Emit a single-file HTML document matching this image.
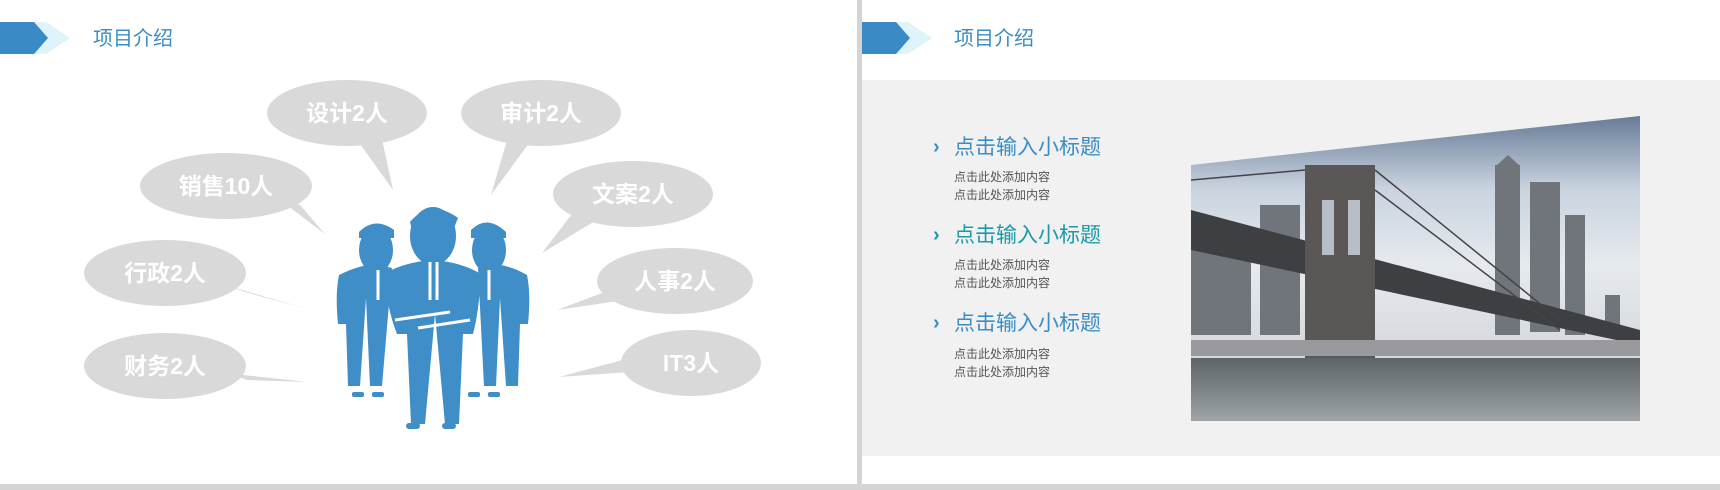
<!DOCTYPE html>
<html><head><meta charset="utf-8"><style>
html,body{margin:0;padding:0;background:#fff;}
svg{display:block;}
text{font-family:"Liberation Sans","Noto Sans CJK SC",sans-serif;}
</style></head><body>
<svg width="1720" height="490" viewBox="0 0 1720 490" xmlns="http://www.w3.org/2000/svg">
<defs>
<linearGradient id="sky" x1="0" y1="0" x2="0" y2="1">
<stop offset="0" stop-color="#5f7391"/><stop offset="0.25" stop-color="#c9d3df"/><stop offset="0.5" stop-color="#e6eaee"/><stop offset="1" stop-color="#c8ccd0"/>
</linearGradient>
<linearGradient id="water" x1="0" y1="0" x2="0" y2="1">
<stop offset="0" stop-color="#5d6468"/><stop offset="1" stop-color="#9da3a6"/>
</linearGradient>
<clipPath id="photo"><polygon points="1191,165 1640,116 1640,421 1191,421"/></clipPath>
</defs>
<rect width="1720" height="490" fill="#fff"/>
<rect x="857" y="0" width="5" height="490" fill="#d4d4d4"/>
<rect x="0" y="484" width="1720" height="6" fill="#d4d4d4"/>

<polygon points="0,22 46,22 70,38 46,54 0,54" fill="#def3fa"/>
<polygon points="0,22 34,22 48,38 34,54 0,54" fill="#3a8ac6"/>
<text x="93" y="45" font-size="20" fill="#3a8dc5">项目介绍</text>

<g fill="#d9d9d9">
<ellipse cx="347" cy="113" rx="80" ry="33"/><polygon points="350,130 380,130 393,190"/>
<ellipse cx="541" cy="113" rx="80" ry="33"/><polygon points="510,130 535,135 491,195"/>
<ellipse cx="226" cy="186" rx="86" ry="33"/><polygon points="280,200 300,205 325,234"/>
<ellipse cx="633" cy="194" rx="80" ry="33"/><polygon points="575,210 605,215 542,253"/>
<ellipse cx="165" cy="273" rx="81" ry="33"/><polygon points="225,285 245,292 307,309"/>
<ellipse cx="675" cy="281" rx="78" ry="33"/><polygon points="610,290 625,300 557,310"/>
<ellipse cx="165" cy="366" rx="81" ry="33"/><polygon points="225,373 248,380 307,382"/>
<ellipse cx="691" cy="363" rx="70" ry="33"/><polygon points="630,358 630,372 559,377"/>
</g>
<g fill="#fff" font-size="23" font-weight="bold" text-anchor="middle">
<text x="347" y="121">设计2人</text>
<text x="541" y="121">审计2人</text>
<text x="226" y="194">销售10人</text>
<text x="633" y="202">文案2人</text>
<text x="165" y="281">行政2人</text>
<text x="675" y="289">人事2人</text>
<text x="165" y="374">财务2人</text>
<text x="691" y="371">IT3人</text>
</g>

<g fill="#3f8ec8">
<ellipse cx="376" cy="250" rx="17" ry="23"/>
<path d="M359,232 q16,-16 35,-2 l0,8 l-35,0z"/>
<path d="M339,275 q20,-10 37,-11 l16,4 l-10,118 l-12,0 l-4,-88 l-6,88 l-12,0 l-2,-62 l-8,0 q-3,-30 1,-49z"/>
<rect x="352" y="392" width="12" height="5" rx="2"/><rect x="372" y="392" width="12" height="5" rx="2"/>
<ellipse cx="489" cy="250" rx="17" ry="23"/>
<path d="M471,230 q16,-16 35,2 l0,6 l-35,0z"/>
<path d="M478,268 l14,-4 q18,1 35,11 q4,19 1,49 l-8,0 l-2,62 l-12,0 l-6,-88 l-4,88 l-12,0z"/>
<rect x="468" y="392" width="12" height="5" rx="2"/><rect x="488" y="392" width="12" height="5" rx="2"/>
<ellipse cx="433" cy="236" rx="23" ry="29"/>
<path d="M410,222 q20,-24 48,-4 l-4,10 l-42,2z"/>
<path d="M384,274 q20,-12 49,-14 q28,2 48,14 q-2,38 -8,60 l-10,0 l-4,90 l-14,0 l-10,-110 l-10,110 l-14,0 l-4,-90 l-10,0 q-10,-25 -13,-60z"/>
<rect x="406" y="423" width="14" height="6" rx="3"/><rect x="442" y="423" width="14" height="6" rx="3"/>
</g>
<g stroke="#fff" stroke-width="3" fill="none">
<line x1="395" y1="320" x2="450" y2="312"/><line x1="418" y1="328" x2="470" y2="320"/>
<line x1="430" y1="262" x2="430" y2="300"/><line x1="437" y1="262" x2="437" y2="300"/>
<line x1="378" y1="270" x2="378" y2="300"/><line x1="489" y1="270" x2="489" y2="300"/>
</g>

<polygon points="862,22 908,22 932,38 908,54 862,54" fill="#def3fa"/>
<polygon points="862,22 896,22 910,38 896,54 862,54" fill="#3a8ac6"/>
<text x="954" y="45" font-size="20" fill="#3a8dc5">项目介绍</text>

<rect x="862" y="80" width="858" height="376" fill="#f1f1f1"/>

<g font-size="21">
<text x="933" y="153" fill="#3a8dc5" font-size="20" font-weight="bold">›</text><text x="954" y="154" fill="#3a8dc5">点击输入小标题</text>
<text x="933" y="241" fill="#1b9aa8" font-size="20" font-weight="bold">›</text><text x="954" y="242" fill="#1b9aa8">点击输入小标题</text>
<text x="933" y="329" fill="#3a8dc5" font-size="20" font-weight="bold">›</text><text x="954" y="330" fill="#3a8dc5">点击输入小标题</text>
</g>
<g font-size="12" fill="#555">
<text x="954" y="181">点击此处添加内容</text><text x="954" y="199">点击此处添加内容</text>
<text x="954" y="269">点击此处添加内容</text><text x="954" y="287">点击此处添加内容</text>
<text x="954" y="358">点击此处添加内容</text><text x="954" y="376">点击此处添加内容</text>
</g>

<g clip-path="url(#photo)">
<rect x="1191" y="110" width="450" height="312" fill="url(#sky)"/>
<g fill="#6f757b">
<rect x="1260" y="205" width="40" height="130"/><rect x="1191" y="245" width="60" height="90"/>
<rect x="1495" y="165" width="25" height="170"/><rect x="1530" y="182" width="30" height="150"/>
<rect x="1565" y="215" width="20" height="120"/><rect x="1605" y="295" width="15" height="40"/>
</g>
<polygon points="1497,165 1508,155 1519,165" fill="#6f757b"/>
<polygon points="1191,210 1640,330 1640,345 1191,250" fill="#3e3f42"/>
<rect x="1305" y="165" width="70" height="195" fill="#5b5756"/>
<rect x="1322" y="200" width="12" height="55" fill="#b8bec6"/><rect x="1348" y="200" width="12" height="55" fill="#b8bec6"/>
<g stroke="#444" stroke-width="1.5" fill="none">
<line x1="1375" y1="170" x2="1560" y2="320"/><line x1="1375" y1="190" x2="1560" y2="330"/>
<line x1="1305" y1="170" x2="1191" y2="180"/>
</g>
<rect x="1191" y="340" width="450" height="16" fill="#9a9a9e"/>
<rect x="1191" y="358" width="450" height="63" fill="url(#water)"/>
</g>
</svg>
</body></html>
